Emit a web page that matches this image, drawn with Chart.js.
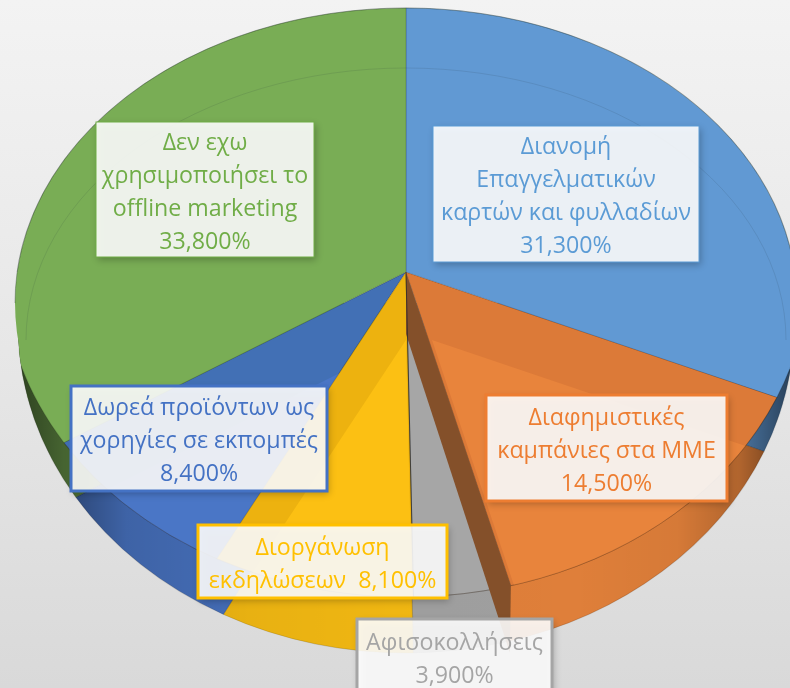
<!DOCTYPE html>
<html lang="el">
<head>
<meta charset="utf-8">
<title>Offline marketing</title>
<script src="https://cdn.jsdelivr.net/npm/chart.js@4"></script>
<style>
html,body{margin:0;padding:0;width:790px;height:688px;overflow:hidden;background:linear-gradient(180deg,#f3f3f3 0%,#e6e6e6 55%,#d9d9d9 100%);}
canvas{display:block;}
</style>
</head>
<body>
<canvas id="c" width="790" height="688"></canvas>
<script>
// ---- data (clockwise from the top) ----
const categories = [
  "Διανομή Επαγγελματικών καρτών και φυλλαδίων",
  "Διαφημιστικές καμπάνιες στα ΜΜΕ",
  "Αφισοκολλήσεις",
  "Διοργάνωση εκδηλώσεων",
  "Δωρεά προϊόντων ως χορηγίες σε εκπομπές",
  "Δεν εχω χρησιμοποιήσει το offline marketing"
];
const values = [31.3, 14.5, 3.9, 8.1, 8.4, 33.8];
const labelLines = [
  ["Διανομή", "Επαγγελματικών", "καρτών και φυλλαδίων"],
  ["Διαφημιστικές", "καμπάνιες στα ΜΜΕ"],
  ["Αφισοκολλήσεις"],
  ["Διοργάνωση"],
  ["Δωρεά προϊόντων ως", "χορηγίες σε εκπομπές"],
  ["Δεν εχω", "χρησιμοποιήσει το", "offline marketing"]
];
const inlineLabelPrefix = [null, null, null, "εκδηλώσεων  ", null, null];

// ---- styles ----
const faceColors = ["#6199D3", "#E8843C", "#A6A6A6", "#FCC013", "#4A76C6", "#79AD55"];
const bandColors = ["#6199D3", "#DC7A38", "#A6A6A6", "#EDB20F", "#4270B5", "#79AD55"];
const textColors = ["#5B9BD5", "#ED7D31", "#A5A5A5", "#FFC000", "#4472C4", "#70AD47"];
const borderWidths = [1, 3, 3, 3, 3, 1];
const boxes = [
  {x0:433,y0:126,x1:699,y1:262},
  {x0:486,y0:395,x1:727,y1:501},
  {x0:357,y0:619,x1:552,y1:696},
  {x0:198,y0:525,x1:447,y1:598},
  {x0:71,y0:386,x1:327,y1:491},
  {x0:96,y0:122,x1:314,y1:257}
];
const FONT = '23.2px "Open Sans", "Noto Sans", sans-serif';
const LINE = 33;
const TEXT_DY = 3;
const lightOffset = [null, [26,68], null, [0,68], [0,68], null];
// ellipse frames for the perspective projection
const APEX = {x:406, y:272, a:402, b:325};
const BACK = {x:406, y:303, a:391, b:295};
const WALL = {x:406, y:325, a:388, b:328};
const INNER = {x:406, y:340, a:380, b:272};

const pct = v => v.toFixed(3).replace('.', ',') + '%';

const projected = {
  id: 'projected',
  beforeDatasetsDraw(chart) {
    const ctx = chart.ctx;
    const arcs = chart.getDatasetMeta(0).data;
    const cx = arcs[0].x, cy = arcs[0].y, R = arcs[0].outerRadius;
    const frame = (f, dx = 0, dy = 0) => {
      ctx.translate(f.x + dx, f.y + dy);
      ctx.scale(f.a / R, f.b / R);
      ctx.translate(-cx, -cy);
    };
    const paint = (el, color, bw) => {
      const saved = el.options;
      el.options = {...saved, backgroundColor: color};
      if (bw !== undefined) el.options.borderWidth = bw;
      el.draw(ctx);
      el.options = saved;
    };
    const ell = f => { ctx.moveTo(f.x + f.a, f.y); ctx.ellipse(f.x, f.y, f.a, f.b, 0, 0, Math.PI * 2); };

    // side wall (only its front part ever shows)
    ctx.save();
    ctx.beginPath(); ctx.rect(0, BACK.y, 790, 688); ctx.clip();
    ctx.save(); frame(WALL); arcs.forEach((el, i) => paint(el, faceColors[i])); ctx.restore();
    ctx.beginPath(); ell(WALL); ctx.clip();
    const g = ctx.createLinearGradient(WALL.x - WALL.a, 0, WALL.x + WALL.a, 0);
    [[0,.62],[.06,.42],[.14,.16],[.3,.08],[.5,.05],[.72,.04],[.85,.08],[.93,.24],[1,.6]].forEach(s => g.addColorStop(s[0], 'rgba(0,0,0,' + s[1] + ')'));
    ctx.fillStyle = g; ctx.fillRect(0, 0, 790, 688);
    ctx.restore();

    // rear half of the top face
    ctx.save();
    ctx.beginPath(); ctx.rect(0, 0, 790, APEX.y); ctx.clip();
    frame(BACK); arcs.forEach((el, i) => paint(el, faceColors[i]));
    ctx.restore();

    // front half of the top face, with the lighter floor of each slice
    ctx.save();
    ctx.beginPath(); ell(BACK); ell(WALL); ctx.clip();
    ctx.beginPath(); ctx.rect(0, APEX.y, 790, 688); ctx.clip();
    [4, 3, 2, 1, 0, 5].forEach(i => {
      ctx.save(); frame(APEX); paint(arcs[i], bandColors[i]); ctx.restore();
      if (lightOffset[i]) {
        ctx.save();
        ctx.beginPath(); ctx.ellipse(APEX.x, APEX.y, APEX.a, APEX.b, 0, 0, Math.PI * 2); ctx.clip();
        frame(APEX, lightOffset[i][0], lightOffset[i][1]); paint(arcs[i], faceColors[i], 0);
        ctx.restore();
      }
    });
    ctx.restore();

    // rim line of the top face and inner arc
    ctx.save();
    ctx.lineWidth = 1;
    ctx.strokeStyle = 'rgba(60,40,20,.28)';
    ctx.beginPath();
    ctx.ellipse(APEX.x, APEX.y, APEX.a, APEX.b, 0, arcs[0].endAngle, arcs[4].endAngle);
    ctx.stroke();
    ctx.strokeStyle = 'rgba(30,50,60,.12)';
    ctx.beginPath();
    ctx.ellipse(INNER.x, INNER.y, INNER.a, INNER.b, 0, Math.PI * 1.0, Math.PI * 2.0);
    ctx.stroke();
    ctx.restore();

    // cut face of the orange slice, taken from the slice's own end angle
    const end = arcs[1].endAngle;
    const px = APEX.x + Math.cos(end) * APEX.a, py = APEX.y + Math.sin(end) * APEX.b;
    ctx.save();
    ctx.fillStyle = '#84502A';
    ctx.beginPath();
    ctx.moveTo(APEX.x, APEX.y);
    ctx.lineTo(px, py);
    ctx.lineTo(px - 1, py + 67);
    ctx.lineTo(APEX.x, APEX.y + 62);
    ctx.closePath();
    ctx.fill();
    // dark seam on the yellow slice's right edge
    const ge = arcs[3].startAngle;
    ctx.strokeStyle = 'rgba(40,40,40,.75)';
    ctx.lineWidth = 1;
    ctx.beginPath();
    ctx.moveTo(APEX.x, APEX.y);
    ctx.lineTo(APEX.x + Math.cos(ge) * APEX.a, APEX.y + Math.sin(ge) * APEX.b);
    ctx.stroke();
    ctx.restore();

    // outline of the whole pie
    ctx.save();
    ctx.strokeStyle = 'rgba(40,60,50,.35)';
    ctx.lineWidth = 1;
    ctx.beginPath();
    ctx.ellipse(BACK.x, BACK.y, BACK.a, BACK.b, 0, Math.PI, Math.PI * 2);
    ctx.stroke();
    ctx.restore();
    return false;
  },
  afterDraw(chart) {
    const ctx = chart.ctx;
    ctx.save();
    ctx.font = FONT;
    ctx.textAlign = 'center';
    ctx.textBaseline = 'middle';
    boxes.forEach((b, i) => {
      const w = b.x1 - b.x0, h = b.y1 - b.y0;
      ctx.save();
      ctx.shadowColor = 'rgba(0,0,0,.28)';
      ctx.shadowBlur = 7; ctx.shadowOffsetX = 2; ctx.shadowOffsetY = 3;
      ctx.fillStyle = 'rgba(255,255,255,.89)';
      ctx.fillRect(b.x0, b.y0, w, h);
      ctx.restore();
      ctx.strokeStyle = textColors[i];
      ctx.lineWidth = borderWidths[i];
      ctx.strokeRect(b.x0, b.y0, w, h);
      ctx.fillStyle = textColors[i];
      const lines = labelLines[i].slice();
      if (inlineLabelPrefix[i]) lines.push(inlineLabelPrefix[i] + pct(values[i]));
      else lines.push(pct(values[i]));
      const cyBox = i === 2 ? b.y0 + 38 : (b.y0 + b.y1) / 2;
      const top = cyBox - (lines.length - 1) * LINE / 2 + TEXT_DY;
      lines.forEach((t, k) => ctx.fillText(t, (b.x0 + b.x1) / 2, top + k * LINE));
    });
    ctx.restore();
  }
};

new Chart(document.getElementById('c'), {
  type: 'pie',
  data: {
    labels: categories,
    datasets: [{ data: values, backgroundColor: faceColors, borderColor: 'rgba(0,0,0,.14)', borderWidth: 1 }]
  },
  options: {
    responsive: false,
    animation: false,
    layout: { padding: 0 },
    plugins: { legend: { display: false }, tooltip: { enabled: false } }
  },
  plugins: [projected]
});
</script>
</body>
</html>
